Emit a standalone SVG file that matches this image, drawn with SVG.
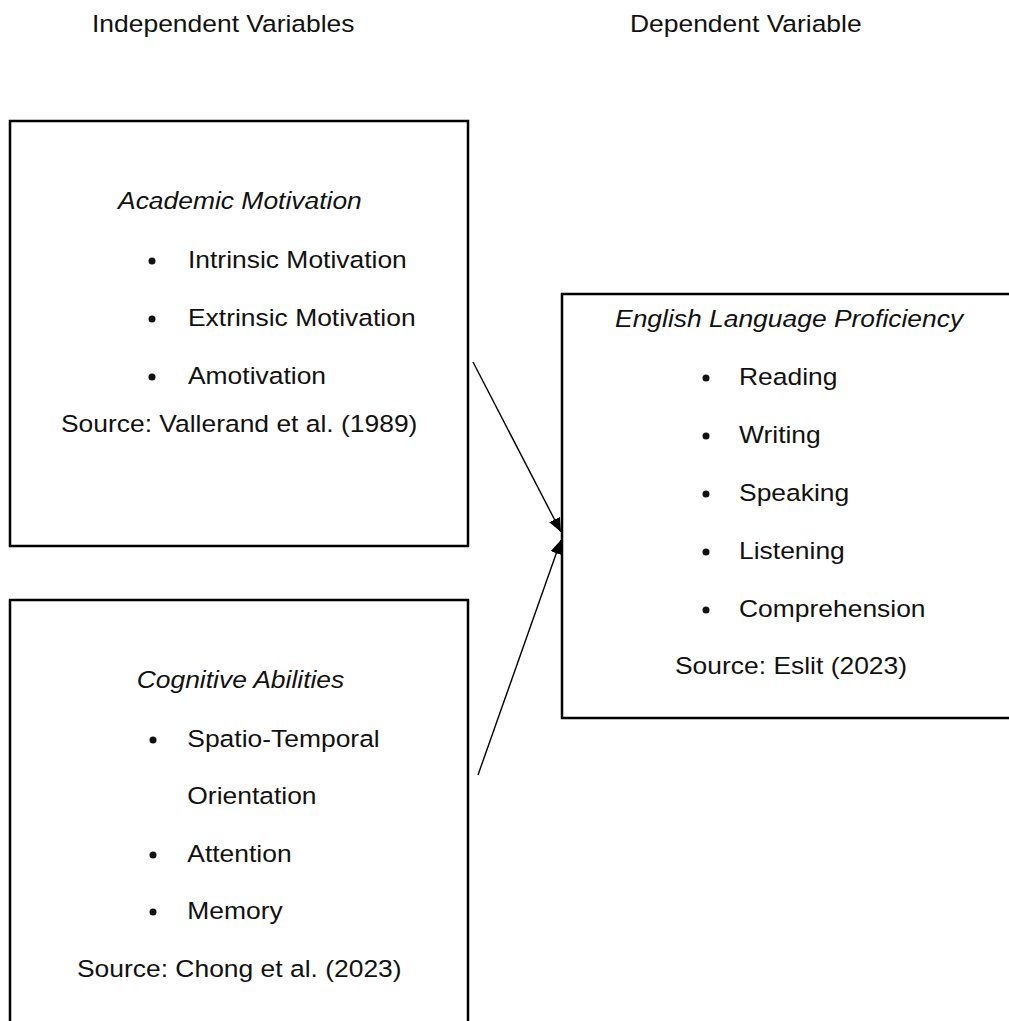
<svg xmlns="http://www.w3.org/2000/svg" width="1009" height="1021" viewBox="0 0 1009 1021">
<style>
.box{fill:#fff;stroke:#000;stroke-width:2.5}
.t{font-family:"Liberation Sans",Arial,sans-serif;font-size:23.5px;fill:#111}
.i{font-style:italic}
.b{fill:#111}
.c{stroke:#000;stroke-width:1.4;fill:none}
</style>
<defs>
<marker id="ah" viewBox="0 0 14 12" refX="14" refY="6" markerWidth="14" markerHeight="12" orient="auto" markerUnits="userSpaceOnUse"><path d="M0,0 L14,6 L0,12 z" fill="#000"/></marker>
</defs>
<rect width="1009" height="1021" fill="#fff"/>
<g id="headers" transform="scale(1.125,1)">
<text class="t" x="81.8" y="32">Independent Variables</text>
<text class="t" x="560" y="32">Dependent Variable</text>
</g>
<g id="academic-motivation">
<rect class="box" x="10" y="121" width="458" height="425"/>
<circle class="b" cx="152" cy="261" r="3.5"/>
<circle class="b" cx="152" cy="319" r="3.5"/>
<circle class="b" cx="152" cy="377" r="3.5"/>
<g transform="scale(1.125,1)">
<text class="t i" x="104.9" y="209">Academic Motivation</text>
<text class="t" x="167.1" y="268">Intrinsic Motivation</text>
<text class="t" x="167.1" y="326">Extrinsic Motivation</text>
<text class="t" x="167.1" y="384">Amotivation</text>
<text class="t" x="54.2" y="432">Source: Vallerand et al. (1989)</text>
</g>
</g>
<g id="cognitive-abilities">
<rect class="box" x="10" y="600" width="458" height="500"/>
<circle class="b" cx="153" cy="740" r="3.5"/>
<circle class="b" cx="153" cy="855" r="3.5"/>
<circle class="b" cx="153" cy="912" r="3.5"/>
<g transform="scale(1.125,1)">
<text class="t i" x="121.5" y="688">Cognitive Abilities</text>
<text class="t" x="166.5" y="747">Spatio-Temporal</text>
<text class="t" x="166.5" y="804">Orientation</text>
<text class="t" x="166.5" y="862">Attention</text>
<text class="t" x="166.5" y="919">Memory</text>
<text class="t" x="68.4" y="977">Source: Chong et al. (2023)</text>
</g>
</g>
<g id="english-language-proficiency">
<rect class="box" x="562" y="294" width="500" height="424"/>
<circle class="b" cx="706" cy="378" r="3.5"/>
<circle class="b" cx="706" cy="436" r="3.5"/>
<circle class="b" cx="706" cy="494" r="3.5"/>
<circle class="b" cx="706" cy="552" r="3.5"/>
<circle class="b" cx="706" cy="610" r="3.5"/>
<g transform="scale(1.125,1)">
<text class="t i" x="546.7" y="327">English Language Proficiency</text>
<text class="t" x="656.9" y="385">Reading</text>
<text class="t" x="656.9" y="443">Writing</text>
<text class="t" x="656.9" y="501">Speaking</text>
<text class="t" x="656.9" y="559">Listening</text>
<text class="t" x="656.9" y="617">Comprehension</text>
<text class="t" x="600" y="674">Source: Eslit (2023)</text>
</g>
</g>
<g id="connectors">
<line class="c" x1="473" y1="362" x2="561" y2="532" marker-end="url(#ah)"/>
<line class="c" x1="478" y1="775" x2="561" y2="540" marker-end="url(#ah)"/>
</g>
</svg>
